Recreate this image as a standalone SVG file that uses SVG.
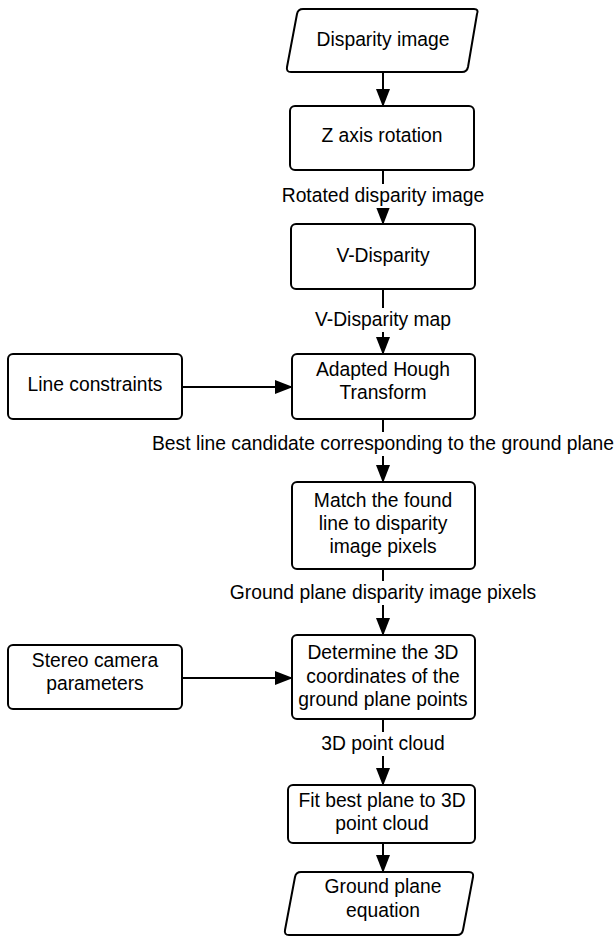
<svg xmlns="http://www.w3.org/2000/svg" width="616" height="937" viewBox="0 0 616 937">
<defs>
<style>
.n{fill:#fff;stroke:#000;stroke-width:2;stroke-linejoin:round}
.t{font-family:"Liberation Sans",Arial,sans-serif;font-size:19.3px;fill:#000;text-anchor:middle}
.c{fill:none;stroke:#000;stroke-width:2}
.lb{fill:#fff;stroke:none}
</style>
<marker id="ah" markerWidth="18" markerHeight="14" refX="17" refY="7" orient="auto" markerUnits="userSpaceOnUse" viewBox="0 0 18 14">
<path d="M0,0 L18,7 L0,14 Z" fill="#000"/>
</marker>
</defs>
<rect width="616" height="937" fill="#fff"/>
<g id="connectors">
<path class="c" d="M383,72 V106" marker-end="url(#ah)"/>
<path class="c" d="M383,170 V224" marker-end="url(#ah)"/>
<path class="c" d="M383,289 V354" marker-end="url(#ah)"/>
<path class="c" d="M383,419 V482" marker-end="url(#ah)"/>
<path class="c" d="M383,569 V635" marker-end="url(#ah)"/>
<path class="c" d="M383,719 V785" marker-end="url(#ah)"/>
<path class="c" d="M383,843 V872" marker-end="url(#ah)"/>
<path class="c" d="M182,387 H292" marker-end="url(#ah)"/>
<path class="c" d="M182,678 H292" marker-end="url(#ah)"/>
<rect class="lb" x="272" y="184" width="222" height="24"/>
<text class="t" x="383" y="202">Rotated disparity image</text>
<rect class="lb" x="304" y="308" width="158" height="24"/>
<text class="t" x="383" y="326">V-Disparity map</text>
<rect class="lb" x="150" y="432" width="466" height="24"/>
<text class="t" x="383" y="450">Best line candidate corresponding to the ground plane</text>
<rect class="lb" x="225" y="581" width="316" height="24"/>
<text class="t" x="383" y="599">Ground plane disparity image pixels</text>
<rect class="lb" x="314" y="732" width="138" height="24"/>
<text class="t" x="383" y="750">3D point cloud</text>
</g>
<g id="disparity-image">
<path class="n" d="M303,9 H474 Q479,9 477,14 L468,67 Q467,72 462,72 H291 Q286,72 287,67 L297,14 Q298,9 303,9 Z"/>
<text class="t" x="383" y="46">Disparity image</text>
</g>
<g id="z-axis-rotation">
<rect class="n" x="290" y="106" width="184" height="64" rx="5"/>
<text class="t" x="382" y="142">Z axis rotation</text>
</g>
<g id="v-disparity">
<rect class="n" x="291" y="224" width="184" height="65" rx="5"/>
<text class="t" x="383" y="262">V-Disparity</text>
</g>
<g id="line-constraints">
<rect class="n" x="8" y="354" width="174" height="65" rx="5"/>
<text class="t" x="95" y="391">Line constraints</text>
</g>
<g id="adapted-hough">
<rect class="n" x="292" y="354" width="183" height="65" rx="5"/>
<text class="t" x="383" y="376">Adapted Hough</text>
<text class="t" x="383" y="399">Transform</text>
</g>
<g id="match-line">
<rect class="n" x="292" y="482" width="183" height="87" rx="5"/>
<text class="t" x="383" y="507">Match the found</text>
<text class="t" x="383" y="530">line to disparity</text>
<text class="t" x="383" y="553">image pixels</text>
</g>
<g id="stereo-camera">
<rect class="n" x="8" y="645" width="174" height="64" rx="5"/>
<text class="t" x="95" y="667">Stereo camera</text>
<text class="t" x="95" y="690">parameters</text>
</g>
<g id="determine-3d">
<rect class="n" x="292" y="635" width="183" height="84" rx="5"/>
<text class="t" x="383" y="659">Determine the 3D</text>
<text class="t" x="383" y="683">coordinates of the</text>
<text class="t" x="383" y="706">ground plane points</text>
</g>
<g id="fit-plane">
<rect class="n" x="288" y="785" width="187" height="58" rx="5"/>
<text class="t" x="382" y="807">Fit best plane to 3D</text>
<text class="t" x="382" y="830">point cloud</text>
</g>
<g id="ground-plane-equation">
<path class="n" d="M301,872 H469 Q474,872 473,877 L463,930 Q462,935 457,935 H289 Q284,935 285,930 L295,877 Q296,872 301,872 Z"/>
<text class="t" x="383" y="893">Ground plane</text>
<text class="t" x="383" y="917">equation</text>
</g>
</svg>
